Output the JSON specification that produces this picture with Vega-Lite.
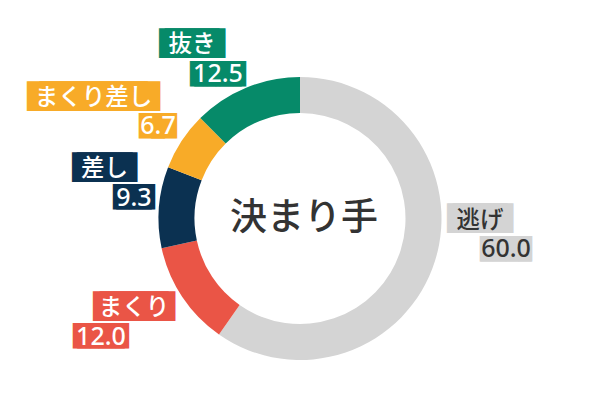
{
  "$schema": "https://vega.github.io/schema/vega-lite/v6.json",
  "width": 600,
  "height": 437,
  "autosize": {"type": "none"},
  "padding": 0,
  "background": "white",
  "data": {
    "values": [
      {"k": "逃げ", "v": 60.0, "o": 1},
      {"k": "まくり", "v": 12.0, "o": 2},
      {"k": "差し", "v": 9.3, "o": 3},
      {"k": "まくり差し", "v": 6.7, "o": 4},
      {"k": "抜き", "v": 12.5, "o": 5}
    ]
  },
  "encoding": {
    "theta": {"field": "v", "type": "quantitative", "stack": true},
    "order": {"field": "o", "type": "quantitative"},
    "detail": {"field": "k", "type": "nominal"}
  },
  "layer": [
    {
      "mark": {"type": "arc", "outerRadius": 141.5, "innerRadius": 105.5},
      "encoding": {
        "color": {
          "field": "k",
          "type": "nominal",
          "scale": {
            "domain": ["逃げ", "まくり", "差し", "まくり差し", "抜き"],
            "range": ["#d4d4d4", "#ea5546", "#0b3151", "#f8ab28", "#068a69"]
          }
        }
      }
    },

    {"mark": {"type": "text", "radius": 150, "font": "DejaVu Sans Mono", "fontSize": 25, "align": "left", "baseline": "alphabetic", "dx": -83.9, "dy": -27.7},
     "encoding": {"text": {"condition": {"test": "datum.k === '抜き'", "value": "████"}, "value": ""}, "color": {"field": "k", "type": "nominal"}}},
    {"mark": {"type": "text", "radius": 150, "font": "DejaVu Sans Mono", "fontSize": 25, "align": "right", "baseline": "alphabetic", "dx": -17.9, "dy": -27.7},
     "encoding": {"text": {"condition": {"test": "datum.k === '抜き'", "value": "████"}, "value": ""}, "color": {"field": "k", "type": "nominal"}}},
    {"mark": {"type": "text", "radius": 150, "font": "DejaVu Sans Mono", "fontSize": 21.5, "align": "left", "baseline": "alphabetic", "dx": -52.9, "dy": 1.1},
     "encoding": {"text": {"condition": {"test": "datum.k === '抜き'", "value": "████"}, "value": ""}, "color": {"field": "k", "type": "nominal"}}},
    {"mark": {"type": "text", "radius": 150, "font": "DejaVu Sans Mono", "fontSize": 21.5, "align": "right", "baseline": "alphabetic", "dx": 3.1, "dy": 1.1},
     "encoding": {"text": {"condition": {"test": "datum.k === '抜き'", "value": "████"}, "value": ""}, "color": {"field": "k", "type": "nominal"}}},
    {"mark": {"type": "text", "radius": 150, "font": "Noto Sans CJK JP", "fontSize": 23.5, "fontWeight": 500, "align": "center", "baseline": "alphabetic", "dx": -50.9, "dy": -27.4, "color": "white"},
     "encoding": {"text": {"condition": {"test": "datum.k === '抜き'", "field": "k", "type": "nominal"}, "value": ""}}},
    {"mark": {"type": "text", "radius": 150, "font": "Noto Sans", "fontSize": 25, "fontWeight": 500, "align": "center", "baseline": "alphabetic", "dx": -24.9, "dy": 2.6, "color": "white"},
     "encoding": {"text": {"condition": {"test": "datum.k === '抜き'", "field": "v", "type": "quantitative", "format": ".1f"}, "value": ""}}},

    {"mark": {"type": "text", "radius": 150, "font": "DejaVu Sans Mono", "fontSize": 25, "align": "left", "baseline": "alphabetic", "dx": -147.5, "dy": -31.2},
     "encoding": {"text": {"condition": {"test": "datum.k === 'まくり差し'", "value": "████████"}, "value": ""}, "color": {"field": "k", "type": "nominal"}}},
    {"mark": {"type": "text", "radius": 150, "font": "DejaVu Sans Mono", "fontSize": 25, "align": "right", "baseline": "alphabetic", "dx": -14.5, "dy": -31.2},
     "encoding": {"text": {"condition": {"test": "datum.k === 'まくり差し'", "value": "████████"}, "value": ""}, "color": {"field": "k", "type": "nominal"}}},
    {"mark": {"type": "text", "radius": 150, "font": "DejaVu Sans Mono", "fontSize": 21.5, "align": "left", "baseline": "alphabetic", "dx": -35.5, "dy": -3.4},
     "encoding": {"text": {"condition": {"test": "datum.k === 'まくり差し'", "value": "██"}, "value": ""}, "color": {"field": "k", "type": "nominal"}}},
    {"mark": {"type": "text", "radius": 150, "font": "DejaVu Sans Mono", "fontSize": 21.5, "align": "right", "baseline": "alphabetic", "dx": 2.5, "dy": -3.4},
     "encoding": {"text": {"condition": {"test": "datum.k === 'まくり差し'", "value": "██"}, "value": ""}, "color": {"field": "k", "type": "nominal"}}},
    {"mark": {"type": "text", "radius": 150, "font": "Noto Sans CJK JP", "fontSize": 23.5, "fontWeight": 500, "align": "center", "baseline": "alphabetic", "dx": -81.0, "dy": -30.9, "color": "white"},
     "encoding": {"text": {"condition": {"test": "datum.k === 'まくり差し'", "field": "k", "type": "nominal"}, "value": ""}}},
    {"mark": {"type": "text", "radius": 150, "font": "Noto Sans", "fontSize": 25, "fontWeight": 500, "align": "center", "baseline": "alphabetic", "dx": -16.5, "dy": -1.9, "color": "white"},
     "encoding": {"text": {"condition": {"test": "datum.k === 'まくり差し'", "field": "v", "type": "quantitative", "format": ".1f"}, "value": ""}}},

    {"mark": {"type": "text", "radius": 150, "font": "DejaVu Sans Mono", "fontSize": 25, "align": "left", "baseline": "alphabetic", "dx": -78.5, "dy": -30.5},
     "encoding": {"text": {"condition": {"test": "datum.k === '差し'", "value": "████"}, "value": ""}, "color": {"field": "k", "type": "nominal"}}},
    {"mark": {"type": "text", "radius": 150, "font": "DejaVu Sans Mono", "fontSize": 25, "align": "right", "baseline": "alphabetic", "dx": -13.5, "dy": -30.5},
     "encoding": {"text": {"condition": {"test": "datum.k === '差し'", "value": "████"}, "value": ""}, "color": {"field": "k", "type": "nominal"}}},
    {"mark": {"type": "text", "radius": 150, "font": "DejaVu Sans Mono", "fontSize": 21.5, "align": "left", "baseline": "alphabetic", "dx": -37.5, "dy": -2.6},
     "encoding": {"text": {"condition": {"test": "datum.k === '差し'", "value": "███"}, "value": ""}, "color": {"field": "k", "type": "nominal"}}},
    {"mark": {"type": "text", "radius": 150, "font": "DejaVu Sans Mono", "fontSize": 21.5, "align": "right", "baseline": "alphabetic", "dx": 4.5, "dy": -2.6},
     "encoding": {"text": {"condition": {"test": "datum.k === '差し'", "value": "███"}, "value": ""}, "color": {"field": "k", "type": "nominal"}}},
    {"mark": {"type": "text", "radius": 150, "font": "Noto Sans CJK JP", "fontSize": 23.5, "fontWeight": 500, "align": "center", "baseline": "alphabetic", "dx": -46.0, "dy": -30.2, "color": "white"},
     "encoding": {"text": {"condition": {"test": "datum.k === '差し'", "field": "k", "type": "nominal"}, "value": ""}}},
    {"mark": {"type": "text", "radius": 150, "font": "Noto Sans", "fontSize": 25, "fontWeight": 500, "align": "center", "baseline": "alphabetic", "dx": -16.5, "dy": -0.7, "color": "white"},
     "encoding": {"text": {"condition": {"test": "datum.k === '差し'", "field": "v", "type": "quantitative", "format": ".1f"}, "value": ""}}},

    {"mark": {"type": "text", "radius": 150, "font": "DejaVu Sans Mono", "fontSize": 25, "align": "left", "baseline": "alphabetic", "dx": 3.9, "dy": -36.4},
     "encoding": {"text": {"condition": {"test": "datum.k === '逃げ'", "value": "████"}, "value": ""}, "color": {"field": "k", "type": "nominal"}}},
    {"mark": {"type": "text", "radius": 150, "font": "DejaVu Sans Mono", "fontSize": 25, "align": "right", "baseline": "alphabetic", "dx": 69.9, "dy": -36.4},
     "encoding": {"text": {"condition": {"test": "datum.k === '逃げ'", "value": "████"}, "value": ""}, "color": {"field": "k", "type": "nominal"}}},
    {"mark": {"type": "text", "radius": 150, "font": "DejaVu Sans Mono", "fontSize": 21.5, "align": "left", "baseline": "alphabetic", "dx": 36.9, "dy": -7.6},
     "encoding": {"text": {"condition": {"test": "datum.k === '逃げ'", "value": "████"}, "value": ""}, "color": {"field": "k", "type": "nominal"}}},
    {"mark": {"type": "text", "radius": 150, "font": "DejaVu Sans Mono", "fontSize": 21.5, "align": "right", "baseline": "alphabetic", "dx": 88.9, "dy": -7.6},
     "encoding": {"text": {"condition": {"test": "datum.k === '逃げ'", "value": "████"}, "value": ""}, "color": {"field": "k", "type": "nominal"}}},
    {"mark": {"type": "text", "radius": 150, "font": "Noto Sans CJK JP", "fontSize": 23.5, "fontWeight": 500, "align": "center", "baseline": "alphabetic", "dx": 36.9, "dy": -35.6, "color": "#333333"},
     "encoding": {"text": {"condition": {"test": "datum.k === '逃げ'", "field": "k", "type": "nominal"}, "value": ""}}},
    {"mark": {"type": "text", "radius": 150, "font": "Noto Sans", "fontSize": 25, "fontWeight": 500, "align": "center", "baseline": "alphabetic", "dx": 62.9, "dy": -6.1, "color": "#333333"},
     "encoding": {"text": {"condition": {"test": "datum.k === '逃げ'", "field": "v", "type": "quantitative", "format": ".1f"}, "value": ""}}},

    {"mark": {"type": "text", "radius": 150, "font": "DejaVu Sans Mono", "fontSize": 25, "align": "left", "baseline": "alphabetic", "dx": -82.1, "dy": 13.6},
     "encoding": {"text": {"condition": {"test": "datum.k === 'まくり'", "value": "█████"}, "value": ""}, "color": {"field": "k", "type": "nominal"}}},
    {"mark": {"type": "text", "radius": 150, "font": "DejaVu Sans Mono", "fontSize": 25, "align": "right", "baseline": "alphabetic", "dx": -0.1, "dy": 13.6},
     "encoding": {"text": {"condition": {"test": "datum.k === 'まくり'", "value": "█████"}, "value": ""}, "color": {"field": "k", "type": "nominal"}}},
    {"mark": {"type": "text", "radius": 150, "font": "DejaVu Sans Mono", "fontSize": 21.5, "align": "left", "baseline": "alphabetic", "dx": -102.1, "dy": 41.4},
     "encoding": {"text": {"condition": {"test": "datum.k === 'まくり'", "value": "████"}, "value": ""}, "color": {"field": "k", "type": "nominal"}}},
    {"mark": {"type": "text", "radius": 150, "font": "DejaVu Sans Mono", "fontSize": 21.5, "align": "right", "baseline": "alphabetic", "dx": -46.1, "dy": 41.4},
     "encoding": {"text": {"condition": {"test": "datum.k === 'まくり'", "value": "████"}, "value": ""}, "color": {"field": "k", "type": "nominal"}}},
    {"mark": {"type": "text", "radius": 150, "font": "Noto Sans CJK JP", "fontSize": 23.5, "fontWeight": 500, "align": "center", "baseline": "alphabetic", "dx": -41.1, "dy": 13.9, "color": "white"},
     "encoding": {"text": {"condition": {"test": "datum.k === 'まくり'", "field": "k", "type": "nominal"}, "value": ""}}},
    {"mark": {"type": "text", "radius": 150, "font": "Noto Sans", "fontSize": 25, "fontWeight": 500, "align": "center", "baseline": "alphabetic", "dx": -74.1, "dy": 43.4, "color": "white"},
     "encoding": {"text": {"condition": {"test": "datum.k === 'まくり'", "field": "v", "type": "quantitative", "format": ".1f"}, "value": ""}}},

    {"transform": [{"filter": "datum.o === 1"}],
     "mark": {"type": "text", "radius": 0, "font": "Noto Sans CJK JP", "fontSize": 37, "fontWeight": 500, "align": "center", "baseline": "alphabetic", "dx": 4, "dy": 11.1, "color": "#333333"},
     "encoding": {"text": {"value": "決まり手"}}}
  ],
  "config": {
    "view": {"stroke": null},
    "legend": {"disable": true}
  }
}
